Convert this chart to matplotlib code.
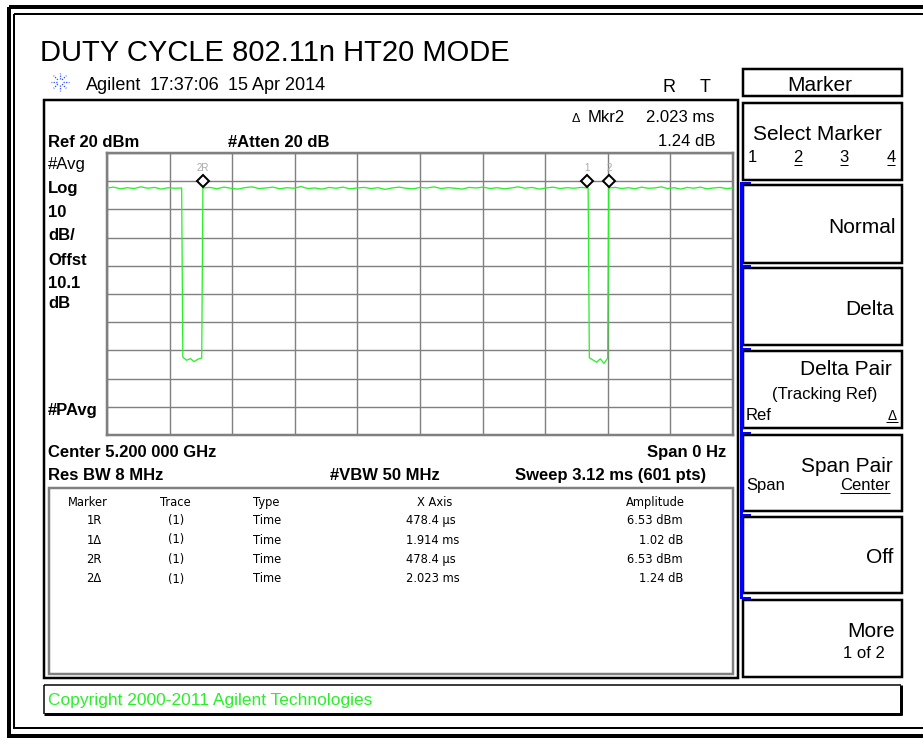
import numpy as np
import matplotlib
matplotlib.use('Agg')
import matplotlib.pyplot as plt
from matplotlib.patches import Rectangle
import matplotlib.transforms as mtransforms

# canvas in pixels
W, H = 923, 740
PX = 0.72  # one pixel in points at dpi 100

# analyzer settings
sweep_ms = 3.12
ref_dbm = 20
db_per_div = 10

# trace, in five pieces: on / off / on / off / on
seg_start = [0.0, 0.378, 0.478, 2.404, 2.501]
seg_end = [0.372, 0.472, 2.398, 2.495, 3.12]
on1 = [7.6, 7.9, 7.3, 7.7, 7.4, 8.0, 7.5, 7.8, 7.2, 7.7, 7.5, 7.6]
gap1 = [-52.4, -53.5, -52.9, -54.0, -53.1, -52.7]
on2 = [7.6, 7.8, 7.3, 7.9, 7.5, 7.2, 7.7, 8.0, 7.4, 7.6, 7.9, 7.3, 7.7, 7.5,
       8.1, 7.4, 7.6, 7.2, 7.8, 7.5, 7.9, 7.3, 7.6, 7.8, 7.4, 7.7, 7.1, 7.6,
       7.9, 7.5, 7.3, 7.8, 7.6, 8.0, 7.4, 7.7, 7.5, 7.2, 7.8, 7.6, 7.9, 7.4,
       7.7, 7.3, 7.6, 8.0, 7.5, 7.8, 7.2, 7.6, 7.9, 7.4, 7.7, 7.5, 7.8, 7.6]
gap2 = [-52.6, -53.4, -54.2, -53.0, -54.6, -52.8]
on3 = [7.6, 7.8, 7.4, 7.7, 7.3, 7.9, 7.5, 7.6, 8.0, 7.4, 7.7, 7.2, 7.8, 7.5,
       7.9, 7.3, 7.6, 7.8, 7.4, 7.6]
segments = [on1, gap1, on2, gap2, on3]

# markers
marker_names = ['2R', '1', '2']
marker_ms = [0.4784, 2.3924, 2.5014]
marker_dbm = [7.6, 7.6, 7.6]

# marker table
table_head = ['Marker', 'Trace', 'Type', 'X Axis', 'Amplitude']
table_marker = ['1R', '1\u0394', '2R', '2\u0394']
table_trace = ['(1)', '(1)', '(1)', '(1)']
table_type = ['Time', 'Time', 'Time', 'Time']
table_x = ['478.4 \u00b5s', '1.914 ms', '478.4 \u00b5s', '2.023 ms']
table_amp = ['6.53 dBm', '1.02 dB', '6.53 dBm', '1.24 dB']

# left annotation column
left_labels = ['#Avg', 'Log', '10', 'dB/', 'Offst', '10.1', 'dB']

FONT = 'Liberation Sans'
GREEN = '#2BEF2B'
GRAY = '#808080'
BLUE = '#0000FF'

fig = plt.figure(figsize=(W / 100, H / 100), dpi=100)
bg = fig.add_axes([0, 0, 1, 1])
bg.set_xlim(0, W)
bg.set_ylim(H, 0)
bg.axis('off')


def rect(x0, y0, x1, y1, lw=2, color='black', z=2):
    bg.add_patch(Rectangle((x0, y0), x1 - x0, y1 - y0, fill=False,
                           edgecolor=color, lw=lw * PX, zorder=z))


def line(xs, ys, lw=2, color='black', z=3, ls='-'):
    bg.plot(xs, ys, color=color, lw=lw * PX, zorder=z, ls=ls,
            solid_capstyle='butt')


def txt(x, y, s, size, weight='normal', ha='left', color='black',
        family=FONT):
    bg.text(x, y, s, fontsize=size, fontweight=weight, ha=ha, va='baseline',
            color=color, family=family, zorder=5)


# outer double frame
rect(9, 7, 940, 736, lw=4)
rect(14, 14, 940, 728, lw=2)

# title and header line
txt(40, 61, 'DUTY CYCLE 802.11n HT20 MODE', 21)
for ang in range(0, 360, 45):
    a = np.radians(ang)
    line([60 + 3 * np.cos(a), 60 + 9 * np.cos(a)],
         [82 + 3 * np.sin(a), 82 + 9 * np.sin(a)], lw=1.3, color='#3050FF',
         ls=(0, (1, 1)))
txt(86, 90, 'Agilent', 13)
txt(150, 90, '17:37:06', 13)
txt(228, 90, '15 Apr 2014', 13)
txt(663, 92, 'R', 13)
txt(700, 92, 'T', 13)

# main display frame and table frame
rect(44, 100, 738, 678, lw=2.5)
rect(49, 488, 733, 674, lw=2.5, color=GRAY)

# top labels
txt(48, 147, 'Ref 20 dBm', 12, 'bold')
txt(228, 147, '#Atten 20 dB', 12, 'bold')
txt(572, 122, '\u0394', 9)
txt(588, 122, 'Mkr2', 12)
txt(715, 122, '2.023 ms', 12, ha='right')
txt(715, 146, '1.24 dB', 12, ha='right')

# left column labels
left_y = [169, 193, 217, 240, 265, 288, 308]
for lab, yy in zip(left_labels, left_y):
    txt(48, yy, lab, 12, 'normal' if lab.startswith('#') else 'bold')
txt(48, 415, '#PAvg', 12, 'bold')

# bottom labels
txt(48, 457, 'Center 5.200 000 GHz', 12, 'bold')
txt(726, 457, 'Span 0 Hz', 12, 'bold', ha='right')
txt(48, 480, 'Res BW 8 MHz', 12, 'bold')
txt(330, 480, '#VBW 50 MHz', 12, 'bold')
txt(706, 480, 'Sweep 3.12 ms (601 pts)', 12, 'bold', ha='right')

# marker table
tf = 'DejaVu Sans'
ts = 8.3
head_x = [88, 175, 253, 435, 655]
head_ha = ['center', 'center', 'left', 'center', 'center']
for h, x, ha in zip(table_head, head_x, head_ha):
    txt(x, 506, h, ts, ha=ha, family=tf)
row_y = [524, 543.5, 563, 582.5]
for i, yy in enumerate(row_y):
    txt(94, yy, table_marker[i], ts, ha='center', family=tf)
    txt(176, yy, table_trace[i], ts, ha='center', family=tf)
    txt(253, yy, table_type[i], ts, family=tf)
    txt(406, yy, table_x[i], ts, family=tf)
    txt(683, yy, table_amp[i], ts, ha='right', family=tf)

# softkey panel
rect(743, 69, 902, 96, lw=2.5)
txt(820, 91, 'Marker', 15, ha='center')
key_tops = [103, 185, 268, 351, 435, 517, 600]
key_bots = [180, 263, 345, 428, 511, 593, 677]
for t, b in zip(key_tops, key_bots):
    rect(743, t, 902, b, lw=2.5)
line([740.5, 740.5], [183, 597], lw=3, color=BLUE, z=4)
for t in key_tops[1:]:
    line([740, 751], [t - 2, t - 2], lw=2, color=BLUE, z=4)

txt(817, 140, 'Select Marker', 15, ha='center')
for s, x in zip(['1', '2', '3', '4'], [752, 798, 844, 891]):
    txt(x, 162, s, 12, ha='center')
    if s != '1':
        line([x - 4, x + 4], [165, 165], lw=1)
txt(896, 233, 'Normal', 15, ha='right')
txt(894, 315, 'Delta', 15, ha='right')
txt(892, 375, 'Delta Pair', 15, ha='right')
txt(825, 399, '(Tracking Ref)', 12, ha='center')
txt(746, 420, 'Ref', 12)
txt(892, 420, '\u0394', 10, ha='center')
line([886, 898], [422, 422], lw=1)
txt(893, 472, 'Span Pair', 15, ha='right')
txt(746, 490, 'Span', 12)
txt(890, 490, 'Center', 12, ha='right')
line([840, 890], [493, 493], lw=1)
txt(893, 563, 'Off', 15, ha='right')
txt(895, 637, 'More', 15, ha='right')
txt(885, 658, '1 of 2', 12, ha='right')

# copyright strip
line([44, 901], [685, 685], lw=1.5)
line([44, 44], [685, 714], lw=1.5)
line([44, 902], [713.5, 713.5], lw=3)
line([900.5, 900.5], [685, 715], lw=3)
txt(48, 705, 'Copyright 2000-2011 Agilent Technologies', 12.5, color=GREEN)

# graticule and trace
ax = fig.add_axes([107 / W, 1 - 435 / H, 626 / W, 282 / H])
ax.set_xlim(0, sweep_ms)
ax.set_ylim(ref_dbm - 10 * db_per_div, ref_dbm)
ax.set_xticks(np.linspace(0, sweep_ms, 11))
ax.set_yticks(np.arange(ref_dbm - 10 * db_per_div, ref_dbm + 1, db_per_div))
ax.grid(True, color=GRAY, lw=1.4 * PX)
ax.tick_params(length=0, labelbottom=False, labelleft=False)
for sp in ax.spines.values():
    sp.set_color(GRAY)
    sp.set_linewidth(2.5 * PX)

t_ms = np.concatenate([np.linspace(s, e, len(v))
                       for s, e, v in zip(seg_start, seg_end, segments)])
level = np.concatenate(segments)
ax.plot(t_ms, level, color=GREEN, lw=1.3 * PX, zorder=3)

# diamonds sit a few pixels above the trace point
lift = ax.transData + mtransforms.ScaledTranslation(0, 7 / 100,
                                                     fig.dpi_scale_trans)
ax.plot(marker_ms, marker_dbm, 'D', ms=6, mfc='white', mec='black',
        mew=2 * PX, transform=lift, zorder=4, clip_on=False)
for name, t, v in zip(marker_names, marker_ms, marker_dbm):
    ax.annotate(name, (t, v), xytext=(0, 17 * PX), textcoords='offset points',
                ha='center', va='baseline', fontsize=7, color='#A8A8A8',
                family=FONT)

fig.savefig('out.png', dpi=100)
